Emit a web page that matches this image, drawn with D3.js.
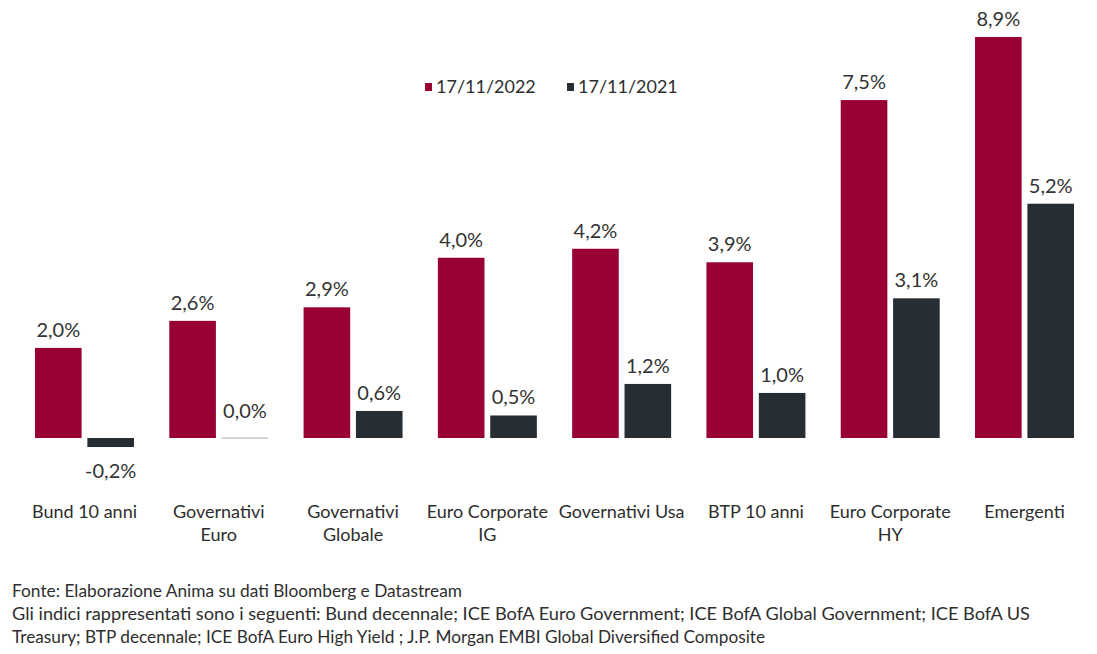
<html lang="it">
<head>
    <title>Rendimenti obbligazionari</title>
    <meta charset="utf-8">
    <script src="https://cdn.jsdelivr.net/npm/d3@7"></script>
    <style>
        body { margin: 0; background: #fff; }
        text { font-family: Lato, "Open Sans", sans-serif; }
    </style>
</head>
<body></body>
<script type="text/javascript">

    //  Data
    const categories = ["Bund 10 anni", "Governativi\nEuro", "Governativi\nGlobale", "Euro Corporate\nIG",
        "Governativi Usa", "BTP 10 anni", "Euro Corporate\nHY", "Emergenti"];
    const series = ["17/11/2022", "17/11/2021"];
    const values2022 = [2.0, 2.6, 2.9, 4.0, 4.2, 3.9, 7.5, 8.9];
    const values2021 = [-0.2, 0.0, 0.6, 0.5, 1.2, 1.0, 3.1, 5.2];
    const notes = [
        "Fonte: Elaborazione Anima su dati Bloomberg e Datastream",
        "Gli indici rappresentati sono i seguenti: Bund decennale; ICE BofA Euro Government; ICE BofA Global Government; ICE BofA US",
        "Treasury; BTP decennale; ICE BofA Euro High Yield ; J.P. Morgan EMBI Global Diversified Composite"
    ];

    const colors = {"17/11/2022": "#990033", "17/11/2021": "#262d33"};
    const W = 1097, H = 654;

    const svg = d3.select("body").append("svg")
        .attr("width", W).attr("height", H);

    //  Scales
    const x0 = d3.scaleBand().domain(categories).range([35, 1074]).paddingInner(0.263).paddingOuter(0);
    const x1 = d3.scaleBand().domain(series).range([0, x0.bandwidth()]).paddingInner(0.11);
    const y = d3.scaleLinear().domain([0, 8.9]).range([438, 37]);

    const rows = categories.map((c, i) => ({cat: c, vals: [
        {s: series[0], v: values2022[i]},
        {s: series[1], v: values2021[i]}
    ]}));

    const fmt = v => v.toFixed(1).replace(".", ",") + "%";

    const groups = svg.selectAll("g.grp").data(rows).enter()
        .append("g").attr("class", "grp")
        .attr("transform", d => "translate(" + x0(d.cat) + ",0)");

    const items = groups.selectAll("g.item").data(d => d.vals).enter().append("g").attr("class", "item");

    items.append("rect")
        .attr("x", d => x1(d.s))
        .attr("width", x1.bandwidth())
        .attr("y", d => d.v === 0 ? y(0) - 0.5 : y(Math.max(d.v, 0)))
        .attr("height", d => d.v === 0 ? 1.2 : Math.abs(y(d.v) - y(0)))
        .attr("fill", d => d.v === 0 ? "#b8b8b8" : colors[d.s]);

    items.append("text")
        .attr("x", d => x1(d.s) + x1.bandwidth() / 2)
        .attr("y", d => d.v < 0 ? y(d.v) + 31 : (d.v === 0 ? y(0) - 20 : y(d.v) - 11))
        .attr("text-anchor", "middle")
        .style("font-size", "20px")
        .style("fill", "#333")
        .text(d => fmt(d.v));

    //  Category labels
    groups.append("text")
        .attr("x", x0.bandwidth() / 2)
        .attr("y", 518)
        .attr("text-anchor", "middle")
        .style("font-size", "18px")
        .style("fill", "#2e2e2e")
        .selectAll("tspan").data(d => d.cat.split("\n")).enter()
        .append("tspan")
        .attr("x", x0.bandwidth() / 2)
        .attr("dy", (d, i) => i === 0 ? 0 : 23)
        .text(d => d);

    //  Legend
    const legend = svg.append("g").selectAll("g").data(series).enter()
        .append("g")
        .attr("transform", (d, i) => "translate(" + (425 + i * 142) + ",0)");
    legend.append("rect").attr("x", 0).attr("y", 83).attr("width", 7).attr("height", 8)
        .attr("fill", d => colors[d]);
    legend.append("text").attr("x", 11).attr("y", 93)
        .style("font-size", "18px").style("fill", "#2e2e2e")
        .text(d => d);

    //  Notes
    const noteLen = [450, 1018, 753];
    svg.append("g").selectAll("text").data(notes).enter()
        .append("text")
        .attr("x", 12)
        .attr("y", (d, i) => 597 + i * 23)
        .attr("textLength", (d, i) => noteLen[i])
        .attr("lengthAdjust", "spacingAndGlyphs")
        .style("font-size", "17px")
        .style("fill", "#2e2e2e")
        .text(d => d);

</script>
</html>
